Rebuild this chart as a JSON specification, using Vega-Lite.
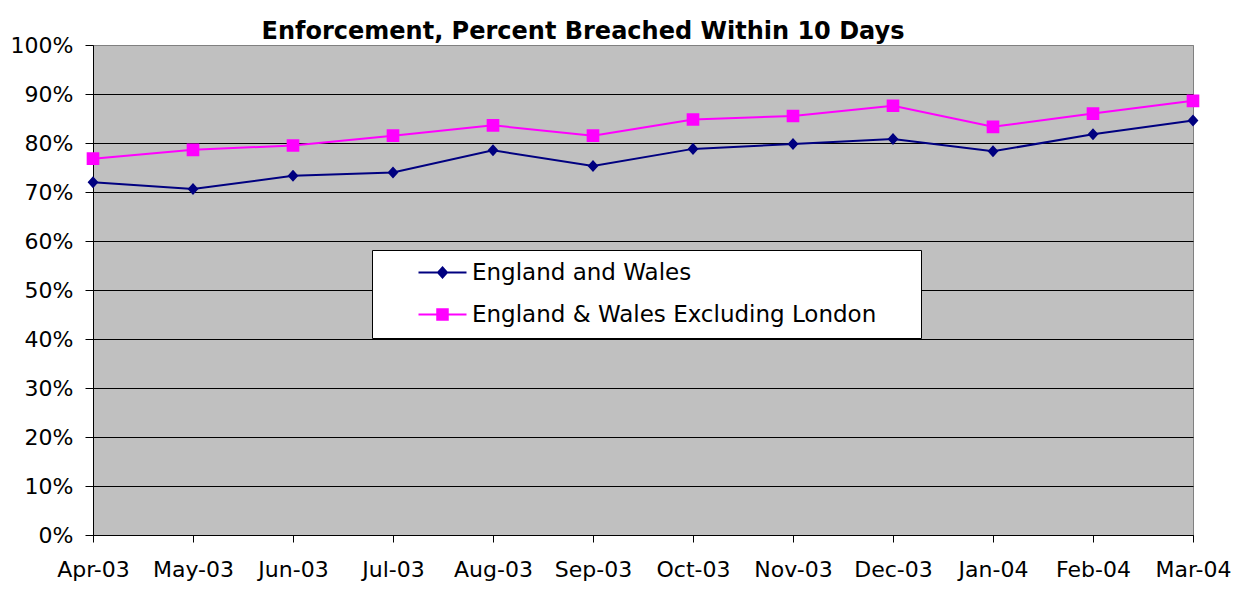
{
  "$schema": "https://vega.github.io/schema/vega-lite/v6.json",
  "width": 1100,
  "height": 490,
  "autosize": {"type": "none"},
  "padding": {"left": 93, "top": 45, "right": 47, "bottom": 70},
  "background": "white",
  "title": {
    "text": "Enforcement, Percent Breached Within 10 Days",
    "font": "DejaVu Sans",
    "fontSize": 24,
    "fontWeight": "bold",
    "color": "black",
    "anchor": "middle",
    "frame": "group",
    "dx": -60,
    "baseline": "alphabetic",
    "offset": -29
  },
  "config": {
    "view": {"fill": "#C0C0C0", "stroke": "#808080", "strokeWidth": 1},
    "font": "DejaVu Sans"
  },
  "data": {
    "values": [
      {"month": "Apr-03", "series": "England and Wales", "value": 0.720},
      {"month": "May-03", "series": "England and Wales", "value": 0.706},
      {"month": "Jun-03", "series": "England and Wales", "value": 0.733},
      {"month": "Jul-03", "series": "England and Wales", "value": 0.740},
      {"month": "Aug-03", "series": "England and Wales", "value": 0.785},
      {"month": "Sep-03", "series": "England and Wales", "value": 0.753},
      {"month": "Oct-03", "series": "England and Wales", "value": 0.788},
      {"month": "Nov-03", "series": "England and Wales", "value": 0.798},
      {"month": "Dec-03", "series": "England and Wales", "value": 0.808},
      {"month": "Jan-04", "series": "England and Wales", "value": 0.783},
      {"month": "Feb-04", "series": "England and Wales", "value": 0.818},
      {"month": "Mar-04", "series": "England and Wales", "value": 0.846},
      {"month": "Apr-03", "series": "England & Wales Excluding London", "value": 0.768},
      {"month": "May-03", "series": "England & Wales Excluding London", "value": 0.786},
      {"month": "Jun-03", "series": "England & Wales Excluding London", "value": 0.795},
      {"month": "Jul-03", "series": "England & Wales Excluding London", "value": 0.815},
      {"month": "Aug-03", "series": "England & Wales Excluding London", "value": 0.836},
      {"month": "Sep-03", "series": "England & Wales Excluding London", "value": 0.815},
      {"month": "Oct-03", "series": "England & Wales Excluding London", "value": 0.848},
      {"month": "Nov-03", "series": "England & Wales Excluding London", "value": 0.855},
      {"month": "Dec-03", "series": "England & Wales Excluding London", "value": 0.876},
      {"month": "Jan-04", "series": "England & Wales Excluding London", "value": 0.833},
      {"month": "Feb-04", "series": "England & Wales Excluding London", "value": 0.860},
      {"month": "Mar-04", "series": "England & Wales Excluding London", "value": 0.886}
    ]
  },
  "encoding": {
    "x": {
      "field": "month",
      "type": "ordinal",
      "sort": null,
      "scale": {"type": "point", "padding": 0},
      "axis": {
        "title": null,
        "labelAngle": 0,
        "labelFont": "DejaVu Sans",
        "labelFontSize": 22,
        "labelColor": "black",
        "labelPadding": 17,
        "tickColor": "black",
        "tickSize": 7,
        "domainColor": "black",
        "grid": false,
        "labelOverlap": false
      }
    },
    "y": {
      "field": "value",
      "type": "quantitative",
      "scale": {"domain": [0, 1], "nice": false},
      "axis": {
        "title": null,
        "values": [0, 0.1, 0.2, 0.3, 0.4, 0.5, 0.6, 0.7, 0.8, 0.9, 1],
        "format": ".0%",
        "labelFont": "DejaVu Sans",
        "labelFontSize": 22,
        "labelColor": "black",
        "labelPadding": 12,
        "tickColor": "black",
        "tickSize": 8,
        "domainColor": "black",
        "grid": true,
        "gridColor": {"condition": {"test": "datum.value >= 1", "value": "#808080"}, "value": "black"},
        "gridOpacity": 1,
        "gridWidth": 1,
        "labelOverlap": false
      }
    },
    "color": {
      "field": "series",
      "type": "nominal",
      "scale": {
        "domain": ["England and Wales", "England & Wales Excluding London"],
        "range": ["#000080", "#FF00FF"]
      },
      "legend": {
        "title": null,
        "orient": "none",
        "legendX": 279,
        "legendY": 205,
        "fillColor": "white",
        "strokeColor": "black",
        "padding": 11,
        "rowPadding": 18,
        "symbolSize": 100,
        "symbolStrokeWidth": 2,
        "symbolOffset": 48,
        "labelOffset": 18,
        "labelLimit": 800,
        "labelFont": "DejaVu Sans",
        "labelFontSize": 23,
        "labelColor": "black",
        "labelExpr": "datum.label + '\u2800\u2800'"
      }
    }
  },
  "layer": [
    {
      "mark": {"type": "line", "strokeWidth": 2}
    },
    {
      "mark": {"type": "point", "filled": true, "opacity": 1, "strokeOpacity": 0, "size": 145},
      "encoding": {
        "stroke": {
          "field": "series",
          "type": "nominal",
          "scale": {
            "domain": ["England and Wales", "England & Wales Excluding London"],
            "range": ["#000080", "#FF00FF"]
          }
        },
        "shape": {
          "field": "series",
          "type": "nominal",
          "scale": {
            "domain": ["England and Wales", "England & Wales Excluding London"],
            "range": ["M-4.8,0H4.8M0,-1L0.9,0L0,1L-0.9,0Z", "M-4.8,0H4.8M-1.05,-1.05H1.05V1.05H-1.05Z"]
          }
        }
      }
    }
  ]
}
